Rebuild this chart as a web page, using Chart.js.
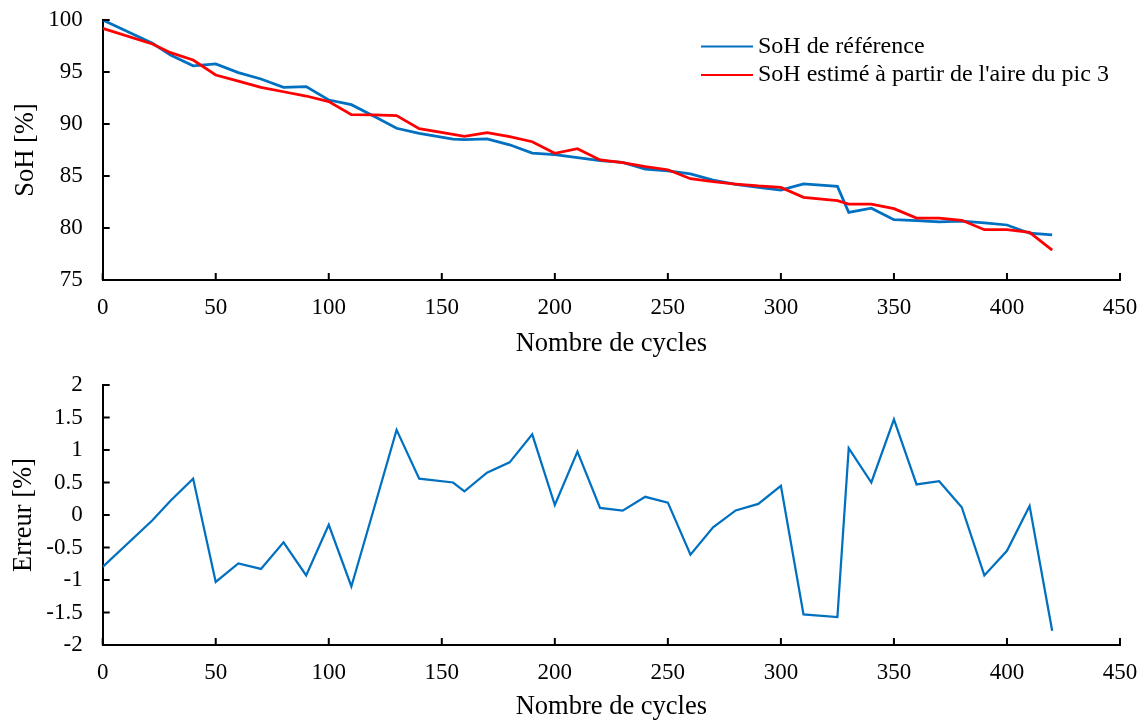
<!DOCTYPE html>
<html lang="fr">
<head>
<meta charset="utf-8">
<title>SoH - erreur</title>
<script src="https://cdn.jsdelivr.net/npm/chart.js@4.4.1/dist/chart.umd.min.js"></script>
<style>
  html, body { margin: 0; padding: 0; background: #fff; }
  #wrap { position: relative; width: 1146px; height: 720px; }
  canvas { position: absolute; left: 0; }
  #chartSoH { top: 0; }
  #chartErreur { top: 365px; }
</style>
</head>
<body>
<div id="wrap">
  <canvas id="chartSoH" width="1146" height="365"></canvas>
  <canvas id="chartErreur" width="1146" height="355"></canvas>
</div>
<script>
// Données
const cycles = [0, 22, 30, 40, 50, 60, 70, 80, 90, 100, 110, 120, 130, 140, 155, 160, 170, 180, 190, 200,
  210, 220, 230, 240, 250, 260, 270, 280, 290, 300, 310, 325, 330, 340, 350, 360, 370, 380, 390, 400, 410, 420];

const sohReference = [100, 97.76, 96.63, 95.6, 95.77, 94.94, 94.33, 93.53, 93.59, 92.31, 91.86, 90.75, 89.59, 89.1, 88.55, 88.5, 88.56, 88.0, 87.2, 87.05,
  86.76, 86.47, 86.3, 85.67, 85.5, 85.2, 84.6, 84.2, 83.9, 83.65, 84.25, 84.0, 81.5, 81.9, 80.8, 80.7, 80.58, 80.67, 80.5, 80.29, 79.5, 79.33];

const sohEstime = [99.2, 97.7, 96.86, 96.15, 94.71, 94.13, 93.53, 93.1, 92.69, 92.15, 90.9, 90.87, 90.8, 89.55, 89.0, 88.82, 89.16, 88.78, 88.3, 87.18,
  87.63, 86.54, 86.28, 85.9, 85.6, 84.74, 84.45, 84.23, 84.04, 83.9, 82.95, 82.63, 82.3, 82.3, 81.86, 80.96, 80.96, 80.74, 79.84, 79.84, 79.58, 77.88];

const erreur = [-0.8, -0.08, 0.22, 0.56, -1.03, -0.745, -0.83, -0.42, -0.93, -0.15, -1.1, 0.1, 1.31, 0.56, 0.5, 0.365, 0.65, 0.81, 1.24, 0.154,
  0.975, 0.108, 0.067, 0.28, 0.19, -0.61, -0.19, 0.07, 0.17, 0.45, -1.53, -1.57, 1.03, 0.5, 1.47, 0.47, 0.52, 0.12, -0.93, -0.55, 0.14, -1.78];

const ticksCycles = [0, 50, 100, 150, 200, 250, 300, 350, 400, 450];
const ticksSoH = [75, 80, 85, 90, 95, 100];
const ticksErreur = [-2, -1.5, -1, -0.5, 0, 0.5, 1, 1.5, 2];

const POLICE = '"Liberation Serif", "Times New Roman", serif';
Chart.defaults.font.family = POLICE;
Chart.defaults.color = '#000';

// Paires {x, y} pour l'axe linéaire
function points(valeurs) {
  return cycles.map((c, i) => ({ x: c, y: valeurs[i] }));
}

// Graduations vers l'intérieur (comme Excel)
const ticksInterieurs = {
  id: 'ticksInterieurs',
  afterDraw(chart) {
    const { ctx, chartArea, scales } = chart;
    ctx.save();
    ctx.strokeStyle = '#000';
    ctx.lineWidth = 2;
    ctx.beginPath();
    scales.x.ticks.forEach((t, i) => {
      const px = scales.x.getPixelForTick(i);
      ctx.moveTo(px, chartArea.bottom);
      ctx.lineTo(px, chartArea.bottom - 7);
    });
    scales.y.ticks.forEach((t, i) => {
      const py = scales.y.getPixelForTick(i);
      ctx.moveTo(chartArea.left, py);
      ctx.lineTo(chartArea.left + 7, py);
    });
    ctx.stroke();
    ctx.restore();
  }
};

// Légende dessinée dans la zone du graphique
const legendeInterne = {
  id: 'legendeInterne',
  afterDraw(chart, args, opts) {
    if (!opts.actif) return;
    const { ctx } = chart;
    ctx.save();
    ctx.font = '24px ' + POLICE;
    ctx.textBaseline = 'middle';
    ctx.textAlign = 'left';
    chart.data.datasets.forEach((ds, i) => {
      const y = opts.y + i * opts.pas;
      ctx.strokeStyle = ds.borderColor;
      ctx.lineWidth = 2;
      ctx.beginPath();
      ctx.moveTo(opts.x, y);
      ctx.lineTo(opts.x + 52, y);
      ctx.stroke();
      ctx.fillStyle = '#000';
      ctx.fillText(ds.label, opts.x + 57, y);
    });
    ctx.restore();
  }
};

function axeX(hauteur, titrePadding) {
  return {
    type: 'linear',
    min: 0,
    max: 450,
    afterBuildTicks: s => { s.ticks = ticksCycles.map(v => ({ value: v })); },
    afterFit: s => { s.height = hauteur; s.paddingLeft = 0; s.paddingRight = 0; },
    grid: { display: true, drawOnChartArea: false, drawTicks: false },
    border: { display: true, color: '#000', width: 2 },
    ticks: { padding: 14, font: { size: 23 }, maxRotation: 0, autoSkip: false, callback: v => String(v) },
    title: { display: true, text: 'Nombre de cycles', font: { size: 26.5, lineHeight: 1 }, padding: { top: 0, bottom: titrePadding } }
  };
}

function axeY(valeurs, titre, titrePadding) {
  return {
    min: valeurs[0],
    max: valeurs[valeurs.length - 1],
    afterBuildTicks: s => { s.ticks = valeurs.map(v => ({ value: v })); },
    afterFit: s => { s.width = 102.7; s.paddingTop = 0; s.paddingBottom = 0; },
    grid: { display: true, drawOnChartArea: false, drawTicks: false },
    border: { display: true, color: '#000', width: 2 },
    ticks: { padding: 20, font: { size: 23 }, autoSkip: false, callback: v => String(v) },
    title: { display: true, text: titre, font: { size: 26.5, lineHeight: 1 }, padding: { top: titrePadding, bottom: 0 } }
  };
}

const optionsCommunes = {
  responsive: false,
  animation: false,
  devicePixelRatio: 1,
  elements: { point: { radius: 0 }, line: { tension: 0 } },
  layout: { autoPadding: false, padding: { top: 20, right: 26, bottom: 0, left: 0 } },
  plugins: { legend: { display: false }, tooltip: { enabled: false } }
};

// Graphique du haut : SoH
new Chart(document.getElementById('chartSoH'), {
  type: 'line',
  data: {
    datasets: [
      { label: 'SoH de référence', data: points(sohReference), borderColor: '#0070C0', borderWidth: 2.75, order: 1 },
      { label: "SoH estimé à partir de l'aire du pic 3", data: points(sohEstime), borderColor: '#FF0000', borderWidth: 2.75, order: 0 }
    ]
  },
  options: {
    ...optionsCommunes,
    scales: { x: axeX(85, 7.5), y: axeY(ticksSoH, 'SoH [%]', 12.75) },
    plugins: { ...optionsCommunes.plugins, legendeInterne: { actif: true, x: 701, y: 46.5, pas: 28.6 } }
  },
  plugins: [ticksInterieurs, legendeInterne]
});

// Graphique du bas : erreur
new Chart(document.getElementById('chartErreur'), {
  type: 'line',
  data: {
    datasets: [
      { label: 'Erreur', data: points(erreur), borderColor: '#0070C0', borderWidth: 2.25 }
    ]
  },
  options: {
    ...optionsCommunes,
    scales: { x: axeX(75, 0), y: axeY(ticksErreur, 'Erreur [%]', 10.75) }
  },
  plugins: [ticksInterieurs]
});
</script>
</body>
</html>
